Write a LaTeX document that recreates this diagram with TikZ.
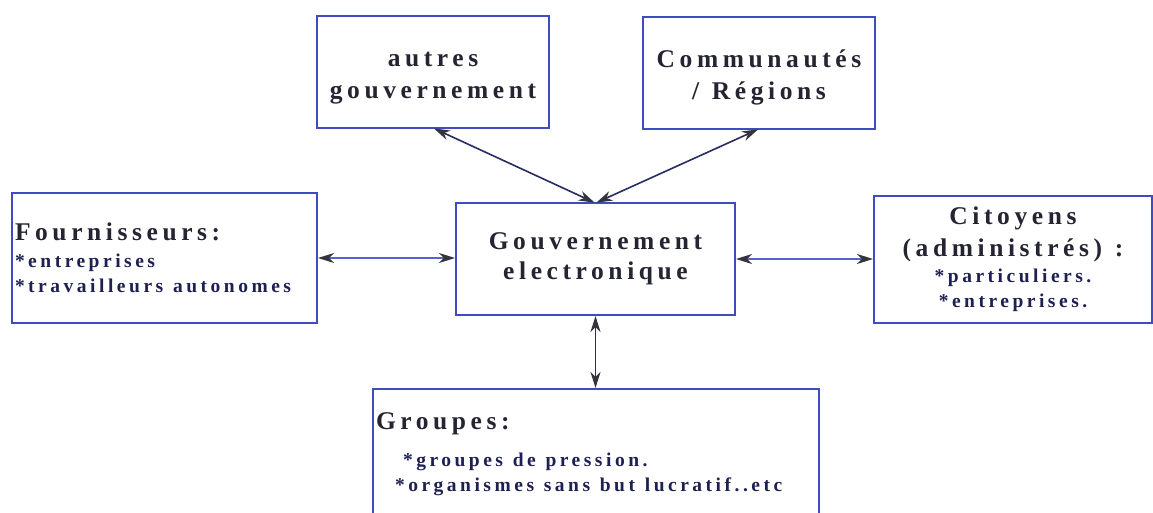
\documentclass[tikz,border=0pt]{standalone}
\usepackage{fontspec}
\usetikzlibrary{arrows.meta}
\newfontfamily\diagfont[LetterSpace=18]{Liberation Serif}
\definecolor{boxline}{RGB}{62,76,190}
\definecolor{darklink}{RGB}{40,44,100}
\definecolor{lightlink}{RGB}{88,100,205}
\definecolor{tipgray}{RGB}{52,52,60}
\definecolor{headtext}{RGB}{36,36,50}
\definecolor{itemtext}{RGB}{30,32,84}
% heading and item text sizes
\newcommand{\hd}{\fontsize{25.5}{32}\selectfont\color{headtext}}
\newcommand{\itm}{\fontsize{19.5}{32}\selectfont\color{itemtext}}
% word gap (the letter-spaced font leaves ordinary spaces too narrow)
\newcommand{\gap}{\hspace{0.5em}}
% taller first line, pushes a two-line label slightly down in its box
\newcommand{\lowerstrut}{\rule{0pt}{26pt}}
\tikzset{
  box/.style={draw=boxline, line width=1.8pt, fill=white, inner sep=3pt,
    outer sep=0pt, font=\diagfont\bfseries\fontsize{25.5}{32}\selectfont},
  link/.style={{Stealth[length=16pt,width=10pt,inset=5pt,color=tipgray]}-{Stealth[length=16pt,width=10pt,inset=5pt,color=tipgray]},
    line width=1.6pt, shorten <=1pt, shorten >=1pt},
}
\begin{document}
\begin{tikzpicture}[x=1pt,y=-1pt]
\clip (0,0) rectangle (1153,513);
\fill[white] (0,0) rectangle (1153,513);

% boxes
\node[box, minimum width=232, minimum height=112, align=center] (aut) at (433,72)
  {\hd\lowerstrut autres\\ \hd gouvernement};
\node[box, minimum width=232, minimum height=112, align=center] (com) at (759,73)
  {\hd\lowerstrut Communautés\\ \hd /\gap Régions};
\node[box, minimum width=279, minimum height=112, align=center] (gov) at (595.5,259)
  {\hd Gouvernement\\[-2pt] \hd electronique};
\node[box, minimum width=305, minimum height=130, text width=299, align=left] (four) at (164.5,258)
  {\hd Fournisseurs:\\[-5pt] \itm *entreprises\\[-7pt] \itm *travailleurs\gap autonomes};
\node[box, minimum width=278, minimum height=127, align=center] (cit) at (1013,259.5)
  {\hd Citoyens\\ \hd (administrés)\gap :\\[-6pt] \itm *particuliers.\\[-7pt] \itm *entreprises.};
\node[box, minimum width=446, minimum height=131, text width=440, align=left] (grp) at (596,454.5)
  {\hd Groupes:\\[5pt] \itm\hspace*{27pt}*groupes\gap de\gap pression.\\[-7pt] \itm\hspace*{19pt}*organismes\gap sans\gap but\gap lucratif..etc};

% connectors
\draw[link, darklink] (aut.south) -- (gov.north);
\draw[link, darklink] (com.south) -- (gov.north);
\draw[link, lightlink] (four.east) -- (four.east -| gov.west);
\draw[link, lightlink] (gov.east) -- (gov.east -| cit.west);
\draw[link, darklink] (gov.south) -- (gov.south |- grp.north);
\end{tikzpicture}
\end{document}
